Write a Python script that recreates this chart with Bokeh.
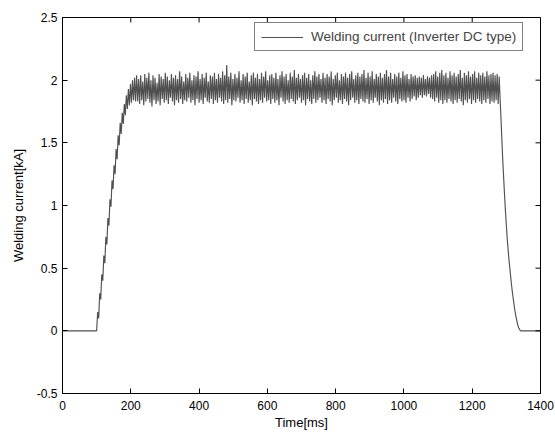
import numpy as np
from bokeh.plotting import figure
from bokeh.models import FixedTicker, Range1d, Legend, LegendItem
from bokeh.embed import file_html
from bokeh.resources import INLINE

# ---------------- data ----------------
lead_ms = [0, 100]
lead_ka = [0.0, 0.0]

ripple_start_ms = 100
ripple_step_ms = 3

ramp_ka = [
    0.00, 0.15, 0.10, 0.30, 0.25, 0.45, 0.40, 0.60, 0.54, 0.75,
    0.69, 0.90, 0.84, 1.05, 0.99, 1.20, 1.13, 1.32, 1.25, 1.45,
    1.37, 1.56, 1.48, 1.66, 1.57, 1.74, 1.65, 1.81, 1.72, 1.88,
    1.77, 1.93, 1.80, 1.97, 1.82, 2.00, 1.84, 2.02, 1.83, 2.04,
]

plateau_ka = [
    1.83, 2.01, 1.81, 2.04, 1.84, 1.99, 1.80, 2.05, 1.83, 2.02, 1.85, 2.06,
    1.82, 2.00, 1.79, 2.04, 1.84, 2.02, 1.81, 1.98, 1.83, 2.05, 1.80, 2.03,
    1.85, 2.01, 1.82, 2.06, 1.84, 2.03, 1.81, 2.00, 1.86, 2.05, 1.83, 2.02,
    1.80, 2.04, 1.84, 2.01, 1.82, 2.07, 1.85, 2.03, 1.81, 1.99, 1.84, 2.05,
    1.83, 2.02, 1.86, 2.06, 1.82, 2.00, 1.84, 2.04, 1.80, 2.03, 1.85, 2.07,
    1.82, 2.01, 1.84, 2.05, 1.81, 2.02, 1.86, 2.06, 1.83, 1.99, 1.82, 2.04,
    1.85, 2.03, 1.81, 2.06, 1.84, 2.01, 1.82, 2.05, 1.86, 2.02, 1.83, 2.07,
    1.81, 2.04, 1.84, 2.12, 1.82, 2.03, 1.85, 2.06, 1.80, 2.01, 1.84, 2.05,
    1.83, 2.02, 1.86, 2.07, 1.82, 2.00, 1.84, 2.05, 1.81, 2.03, 1.85, 2.06,
    1.82, 1.99, 1.84, 2.04, 1.80, 2.06, 1.85, 2.02, 1.83, 2.05, 1.81, 2.01,
    1.84, 2.06, 1.82, 2.03, 1.86, 2.07, 1.83, 2.00, 1.84, 2.04, 1.81, 2.05,
    1.85, 2.02, 1.82, 2.06, 1.84, 2.01, 1.80, 2.04, 1.86, 2.07, 1.83, 2.03,
    1.81, 2.05, 1.84, 2.00, 1.82, 2.06, 1.85, 2.03, 1.83, 2.08, 1.81, 2.02,
    1.84, 2.05, 1.86, 2.01, 1.82, 2.04, 1.84, 2.06, 1.80, 2.02, 1.85, 2.05,
    1.83, 2.00, 1.81, 2.04, 1.85, 2.07, 1.82, 2.03, 1.84, 2.05, 1.86, 2.01,
    1.82, 2.06, 1.84, 2.02, 1.81, 2.05, 1.85, 2.03, 1.83, 2.07, 1.80, 2.01,
    1.84, 2.04, 1.86, 2.06, 1.82, 2.00, 1.84, 2.05, 1.81, 2.03, 1.85, 2.06,
    1.83, 2.02, 1.80, 2.05, 1.84, 2.07, 1.86, 2.01, 1.82, 2.04, 1.84, 2.06,
    1.81, 2.03, 1.85, 2.05, 1.83, 2.08, 1.82, 2.02, 1.85, 2.06, 1.81, 2.03,
    1.84, 2.07, 1.82, 2.01, 1.86, 2.05, 1.83, 2.03, 1.80, 2.06, 1.84, 2.02,
    1.82, 2.05, 1.85, 2.08, 1.81, 2.03, 1.84, 2.06, 1.82, 2.01, 1.86, 2.05,
    1.83, 2.03, 1.81, 2.06, 1.85, 2.02, 1.83, 2.07, 1.84, 2.04, 1.82, 2.05,
    1.86, 2.01, 1.83, 2.05, 1.85, 2.03, 1.87, 2.04, 1.84, 2.02, 1.86, 2.03,
    1.88, 2.02, 1.86, 2.04, 1.88, 2.01, 1.87, 2.03, 1.89, 2.02, 1.86, 2.04,
    1.85, 2.05, 1.83, 2.07, 1.86, 2.03, 1.82, 2.06, 1.84, 2.08, 1.81, 2.04,
    1.84, 2.06, 1.82, 2.02, 1.85, 2.07, 1.83, 2.04, 1.81, 2.06, 1.84, 2.03,
    1.82, 2.05, 1.85, 2.08, 1.83, 2.02, 1.80, 2.06, 1.84, 2.04, 1.82, 2.07,
    1.85, 2.03, 1.81, 2.05, 1.84, 2.07, 1.82, 2.02, 1.85, 2.06, 1.83, 2.04,
    1.81, 2.06, 1.84, 2.03, 1.82, 2.07, 1.85, 2.04, 1.81, 2.05, 1.83, 2.06,
    1.82, 2.04, 1.84, 2.05, 1.81, 2.03,
]

fall_ms = [1282, 1285, 1288, 1291, 1294, 1297, 1300, 1303, 1306, 1309, 1312,
           1315, 1318, 1321, 1324, 1327, 1330, 1333, 1336, 1339, 1342]
fall_ka = [1.83, 1.65, 1.45, 1.28, 1.12, 0.97, 0.84, 0.72, 0.62, 0.53, 0.45,
           0.37, 0.30, 0.24, 0.18, 0.13, 0.09, 0.05, 0.025, 0.01, 0.0]

tail_ms = [1400]
tail_ka = [0.0]

x_ticks = [0, 200, 400, 600, 800, 1000, 1200, 1400]
y_ticks = [-0.5, 0, 0.5, 1, 1.5, 2, 2.5]
y_tick_labels = ["-0.5", "0", "0.5", "1", "1.5", "2", "2.5"]

series_label = "Welding current (Inverter DC type)"
x_label = "Time[ms]"
y_label = "Welding current[kA]"

# ---------------- assemble series ----------------
ripple_ka = ramp_ka + plateau_ka
ripple_ms = list(ripple_start_ms + ripple_step_ms * np.arange(len(ripple_ka)))
t_ms = lead_ms + ripple_ms + fall_ms + tail_ms
i_ka = lead_ka + ripple_ka + fall_ka + tail_ka

FONT = "Liberation Sans"
FRAME_W, FRAME_H = 478, 376
X0, X1 = 0, 1400
Y0, Y1 = -0.5, 2.5
TICK_PX = 5

p = figure(frame_width=FRAME_W, frame_height=FRAME_H,
           x_range=Range1d(X0, X1), y_range=Range1d(Y0, Y1),
           output_backend="svg", toolbar_location=None,
           min_border_left=62, min_border_right=15,
           min_border_top=17, min_border_bottom=43,
           background_fill_color="white", border_fill_color="white")
p.grid.visible = False
p.outline_line_color = "black"
p.outline_line_width = 1

r = p.line(t_ms, i_ka, line_color="#505050", line_width=1.15)

for ax in (p.xaxis[0], p.yaxis[0]):
    ax.major_tick_in = TICK_PX
    ax.major_tick_out = 0
    ax.minor_tick_in = 0
    ax.minor_tick_out = 0
    ax.axis_line_color = "black"
    ax.major_tick_line_color = "black"
    ax.major_label_text_font = FONT
    ax.major_label_text_font_size = "12px"
    ax.major_label_text_color = "black"
    ax.axis_label_text_font = FONT
    ax.axis_label_text_font_size = "13px"
    ax.axis_label_text_font_style = "normal"
    ax.axis_label_text_color = "black"

p.xaxis[0].ticker = FixedTicker(ticks=x_ticks)
p.yaxis[0].ticker = FixedTicker(ticks=y_ticks)
p.yaxis[0].major_label_overrides = {t: s for t, s in zip(y_ticks, y_tick_labels)}
p.xaxis[0].axis_label = x_label
p.yaxis[0].axis_label = y_label
p.xaxis[0].major_label_standoff = 7
p.xaxis[0].axis_label_standoff = 2
p.yaxis[0].major_label_standoff = 5
p.yaxis[0].axis_label_standoff = 8

# mirrored inward tick marks on the top and right frame edges (MATLAB box style)
dy = TICK_PX * (Y1 - Y0) / FRAME_H
dx = TICK_PX * (X1 - X0) / FRAME_W
p.segment(x0=x_ticks, y0=[Y1] * len(x_ticks), x1=x_ticks, y1=[Y1 - dy] * len(x_ticks),
          line_color="black", line_width=1)
p.segment(x0=[X1] * len(y_ticks), y0=y_ticks, x1=[X1 - dx] * len(y_ticks), y1=y_ticks,
          line_color="black", line_width=1)

legend = Legend(items=[LegendItem(label=series_label, renderers=[r])],
                location=(192, 342), margin=0,
                border_line_color="black", border_line_width=1,
                label_text_font=FONT, label_text_font_size="13.5px",
                glyph_width=42, glyph_height=14, label_height=14,
                padding=6, spacing=0, label_standoff=8,
                background_fill_color="white", background_fill_alpha=1)
p.add_layout(legend)

open("out.html", "w").write(file_html(p, INLINE))
